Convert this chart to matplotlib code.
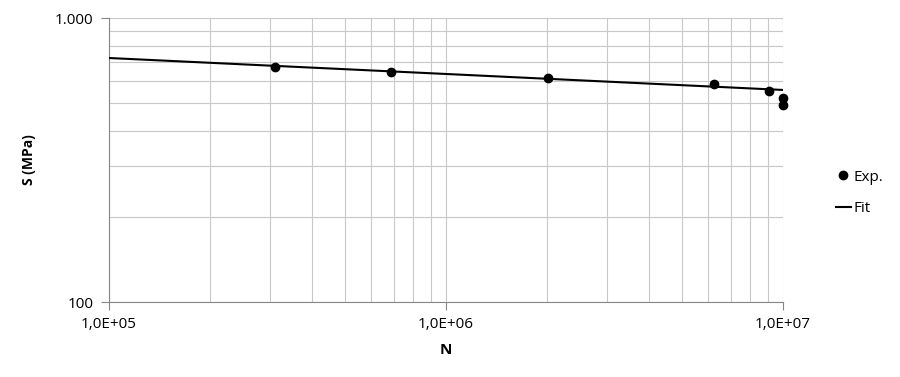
import numpy as np
import matplotlib.pyplot as plt
from matplotlib.ticker import FixedLocator, FixedFormatter, LogLocator, NullFormatter

# experimental data (cycles, stress in MPa)
n_exp = [3.11e5, 6.87e5, 2.01e6, 6.24e6, 9.09e6, 1.0e7, 1.0e7]
s_exp = [672, 645, 615, 586, 553, 523, 494]

# fit line endpoints
n_fit = [1.0e5, 1.0e7]
s_fit = [723, 558]

x_ticks = [1e5, 1e6, 1e7]
x_labels = ['1,0E+05', '1,0E+06', '1,0E+07']
y_ticks = [100, 1000]
y_labels = ['100', '1.000']

plt.rcParams['font.family'] = ['Open Sans', 'DejaVu Sans']

fig = plt.figure(figsize=(9, 3.77), dpi=100)
ax = fig.add_axes([109/900, 1 - 302/377, (783-109)/900, (302-18)/377])

ax.set_xscale('log')
ax.set_yscale('log')
ax.set_xlim(1e5, 1e7)
ax.set_ylim(100, 1000)

ax.plot(n_fit, s_fit, color='black', lw=1.5, label='Fit', zorder=3)
ax.plot(n_exp, s_exp, 'o', color='black', ms=6, label='Exp.', zorder=4, clip_on=False)

ax.xaxis.set_major_locator(FixedLocator(x_ticks))
ax.xaxis.set_major_formatter(FixedFormatter(x_labels))
ax.yaxis.set_major_locator(FixedLocator(y_ticks))
ax.yaxis.set_major_formatter(FixedFormatter(y_labels))
ax.xaxis.set_minor_locator(LogLocator(base=10, subs=np.arange(2, 10)))
ax.yaxis.set_minor_locator(LogLocator(base=10, subs=np.arange(2, 10)))
ax.xaxis.set_minor_formatter(NullFormatter())
ax.yaxis.set_minor_formatter(NullFormatter())

ax.grid(True, which='both', color='#c8c8c8', lw=0.8)
ax.set_axisbelow(True)
ax.tick_params(which='major', length=6, color='#868686', labelsize=11, pad=5)
ax.tick_params(which='minor', length=0)
for s in ['top', 'right']:
    ax.spines[s].set_visible(False)
for s in ['left', 'bottom']:
    ax.spines[s].set_color('#868686')

ax.set_xlabel('N', fontsize=11, fontweight='bold', labelpad=8)
ax.set_ylabel('S (MPa)', fontsize=10, fontweight='bold', labelpad=14)

handles, labels = ax.get_legend_handles_labels()
fig.legend(handles[::-1], labels[::-1], loc='center left', bbox_to_anchor=(822/900, 1 - 193/377),
           frameon=False, fontsize=11, handlelength=1.0, handletextpad=0.15, labelspacing=1.1)

fig.savefig('out.png', dpi=100)
